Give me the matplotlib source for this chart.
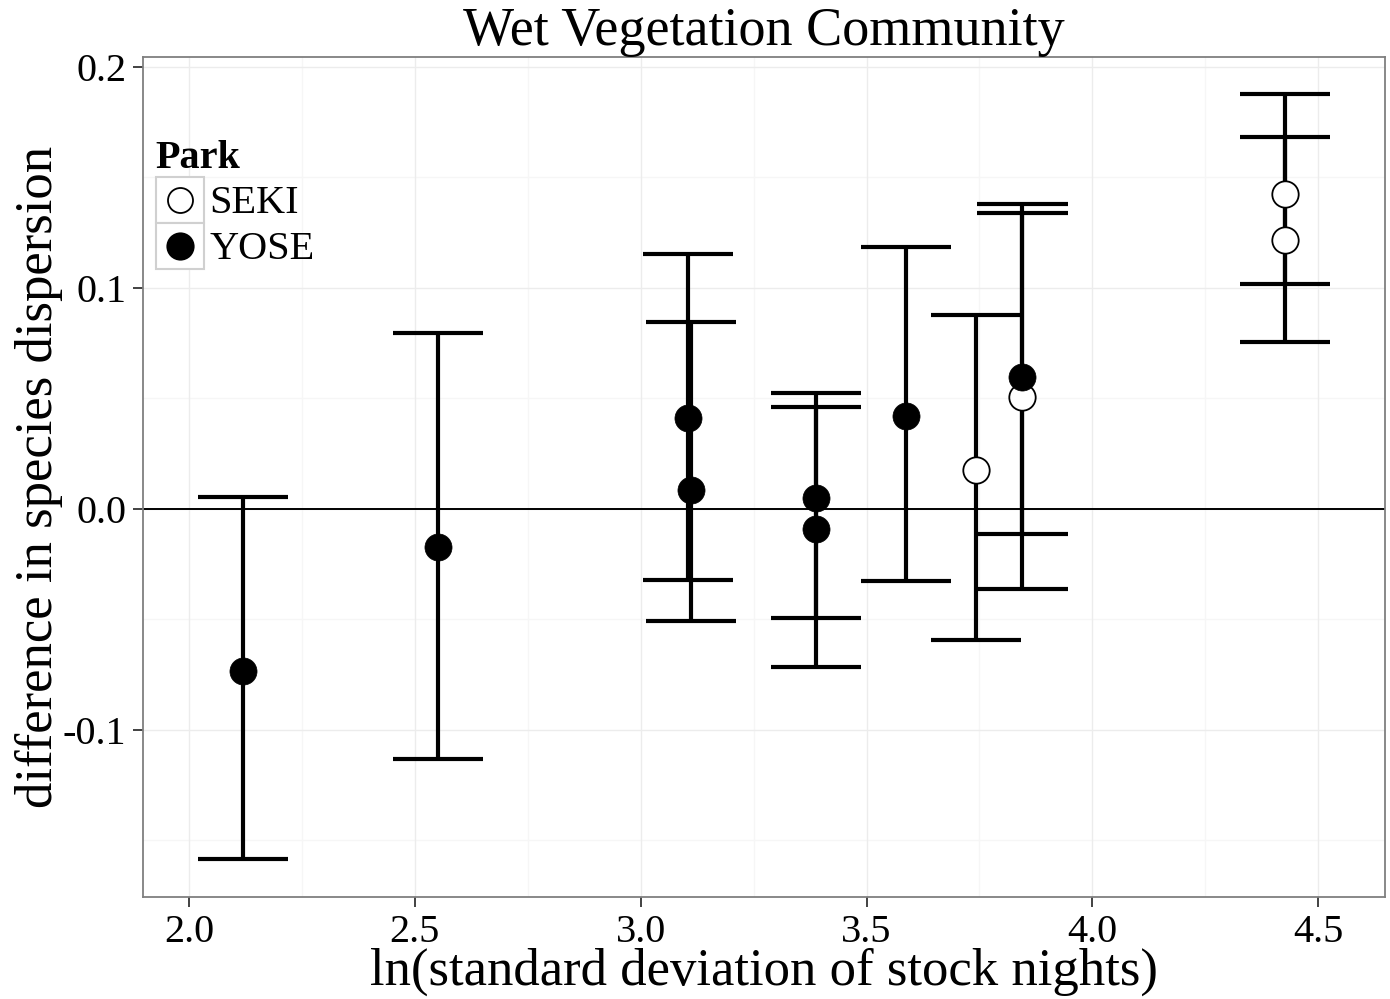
import matplotlib
matplotlib.use("Agg")
import matplotlib.pyplot as plt
from matplotlib.legend_handler import HandlerBase
from matplotlib.patches import Rectangle
from matplotlib.lines import Line2D

plt.rcParams['font.family'] = ['Liberation Serif', 'DejaVu Serif']

# estimates
park = ["YOSE", "YOSE", "YOSE", "YOSE", "YOSE", "YOSE", "YOSE",
        "SEKI", "YOSE", "SEKI", "SEKI", "SEKI"]
ln_sd = [2.120, 2.551, 3.105, 3.112, 3.388, 3.388, 3.588,
         3.743, 3.845, 3.845, 4.427, 4.427]
diff = [-0.0733, -0.0172, 0.0412, 0.0086, 0.0050, -0.0090, 0.0421,
        0.0176, 0.0597, 0.0507, 0.1425, 0.1217]
upper = [0.0054, 0.0796, 0.1154, 0.0846, 0.0525, 0.0462, 0.1186,
         0.0878, 0.1380, 0.1339, 0.1878, 0.1683]
lower = [-0.1584, -0.1131, -0.0321, -0.0507, -0.0493, -0.0715, -0.0326,
         -0.0593, -0.0113, -0.0362, 0.1018, 0.0756]

x_ticks = [2.0, 2.5, 3.0, 3.5, 4.0, 4.5]
y_ticks = [-0.1, 0.0, 0.1, 0.2]
cap_half = 0.1

fig = plt.figure(figsize=(13.9, 9.99), dpi=100)
ax = fig.add_axes([0.1029, 0.1021, 0.8935, 0.8408])

# grid
for v in [2.25, 2.75, 3.25, 3.75, 4.25]:
    ax.axvline(v, color='#f6f6f6', lw=1, zorder=0)
for v in [-0.15, -0.05, 0.05, 0.15]:
    ax.axhline(v, color='#f6f6f6', lw=1, zorder=0)
for v in x_ticks:
    ax.axvline(v, color='#ececec', lw=1, zorder=0)
for v in y_ticks:
    ax.axhline(v, color='#ececec', lw=1, zorder=0)

ax.axhline(0, color='black', lw=1.4, zorder=1)

# error bars
ax.vlines(ln_sd, lower, upper, color='black', lw=3, zorder=2)
caps_x0 = [x - cap_half for x in ln_sd]
caps_x1 = [x + cap_half for x in ln_sd]
ax.hlines(upper, caps_x0, caps_x1, color='black', lw=3, zorder=2)
ax.hlines(lower, caps_x0, caps_x1, color='black', lw=3, zorder=2)

# points
for p in ["SEKI", "YOSE"]:
    xs = [x for x, g in zip(ln_sd, park) if g == p]
    ys = [y for y, g in zip(diff, park) if g == p]
    if p == "SEKI":
        ax.plot(xs, ys, 'o', ms=19, mfc='white', mec='black', mew=1.3, zorder=3)
    else:
        ax.plot(xs, ys, 'o', ms=19.5, mfc='black', mec='black', mew=0.5, zorder=3)

ax.set_xlim(1.898, 4.648)
ax.set_ylim(-0.1756, 0.2045)
ax.set_xticks(x_ticks)
ax.set_xticklabels(["%.1f" % v for v in x_ticks])
ax.set_yticks(y_ticks)
ax.set_yticklabels(["%.1f" % v for v in y_ticks])
ax.tick_params(labelsize=29, length=7, width=1.3, color='#333333', pad=5)
for s in ax.spines.values():
    s.set_color('#7f7f7f')
    s.set_linewidth(1.3)

ax.set_title("Wet Vegetation Community", fontsize=39, pad=1)
ax.set_xlabel("ln(standard deviation of stock nights)", fontsize=38, labelpad=-2)
ax.set_ylabel("difference in species dispersion", fontsize=38, labelpad=0)


class BoxHandler(HandlerBase):
    def __init__(self, filled):
        super().__init__()
        self.filled = filled

    def create_artists(self, legend, orig_handle, xdescent, ydescent,
                       width, height, fontsize, trans):
        box = Rectangle((-xdescent, -ydescent), width, height,
                        facecolor='white', edgecolor='#d0d0d0', lw=1.5,
                        transform=trans)
        fc = 'black' if self.filled else 'white'
        m = Line2D([width / 2 - xdescent], [height / 2 - ydescent], marker='o',
                   ms=19 if self.filled else 18, mfc=fc, mec='black',
                   mew=1.3, ls='none', transform=trans)
        return [box, m]


h_seki = Line2D([], [])
h_yose = Line2D([], [])
leg = ax.legend([h_seki, h_yose], ["SEKI", "YOSE"],
                handler_map={h_seki: BoxHandler(False), h_yose: BoxHandler(True)},
                title="Park", loc='upper left', bbox_to_anchor=(-0.006, 0.925),
                frameon=False, fontsize=29, handlelength=1.19, handleheight=1.37,
                handletextpad=0.15, labelspacing=0.0, borderpad=0.0,
                alignment='left')
leg.get_title().set_fontsize(29)
leg.get_title().set_fontweight('bold')

fig.savefig("out.png", dpi=100)
